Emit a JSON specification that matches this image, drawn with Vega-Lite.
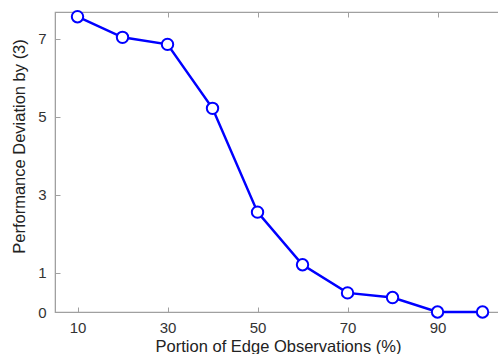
{
  "$schema": "https://vega.github.io/schema/vega-lite/v6.json",
  "width": 446,
  "height": 300,
  "autosize": {"type": "none"},
  "padding": {"left": 55, "top": 12, "right": 0, "bottom": 42},
  "background": "white",
  "config": {
    "view": {"stroke": "#a0a0a0", "strokeWidth": 1.2},
    "axis": {
      "domainColor": "#a0a0a0",
      "tickColor": "#a0a0a0",
      "grid": false,
      "labelFont": "Liberation Sans",
      "titleFont": "Liberation Sans",
      "labelColor": "#333333",
      "titleColor": "#222222",
      "labelFontSize": 15,
      "titleFontSize": 16.5,
      "titleFontWeight": "normal",
      "tickSize": -5
    }
  },
  "data": {
    "values": [
      {"x": 10, "y": 7.57},
      {"x": 20, "y": 7.04},
      {"x": 30, "y": 6.86},
      {"x": 40, "y": 5.22},
      {"x": 50, "y": 2.56},
      {"x": 60, "y": 1.21},
      {"x": 70, "y": 0.49},
      {"x": 80, "y": 0.37},
      {"x": 90, "y": 0.0},
      {"x": 100, "y": 0.0}
    ]
  },
  "resolve": {"axis": {"x": "independent"}},
  "layer": [
    {
      "mark": {"type": "line", "color": "#0000ff", "strokeWidth": 2.5},
      "encoding": {
        "x": {
          "field": "x", "type": "quantitative",
          "scale": {"domain": [5, 104.1], "nice": false, "zero": false},
          "axis": {"values": [10, 30, 50, 70, 90], "title": "Portion of Edge Observations (%)", "labelPadding": 13, "titlePadding": 3}
        },
        "y": {
          "field": "y", "type": "quantitative",
          "scale": {"domain": [0, 7.69], "nice": false},
          "axis": {"values": [0, 1, 3, 5, 7], "title": "Performance Deviation by (3)", "labelPadding": 14, "titlePadding": 10, "titleY": 134}
        }
      }
    },
    {
      "mark": {"type": "point", "shape": "circle", "size": 130, "fill": "white", "stroke": "#0000ff", "strokeWidth": 2, "opacity": 1},
      "encoding": {
        "x": {
          "field": "x", "type": "quantitative",
          "scale": {"domain": [5, 104.1], "nice": false, "zero": false},
          "axis": {"orient": "top", "values": [10, 30, 50, 70, 90], "labels": false, "title": null}
        },
        "y": {"field": "y", "type": "quantitative"}
      }
    }
  ]
}
